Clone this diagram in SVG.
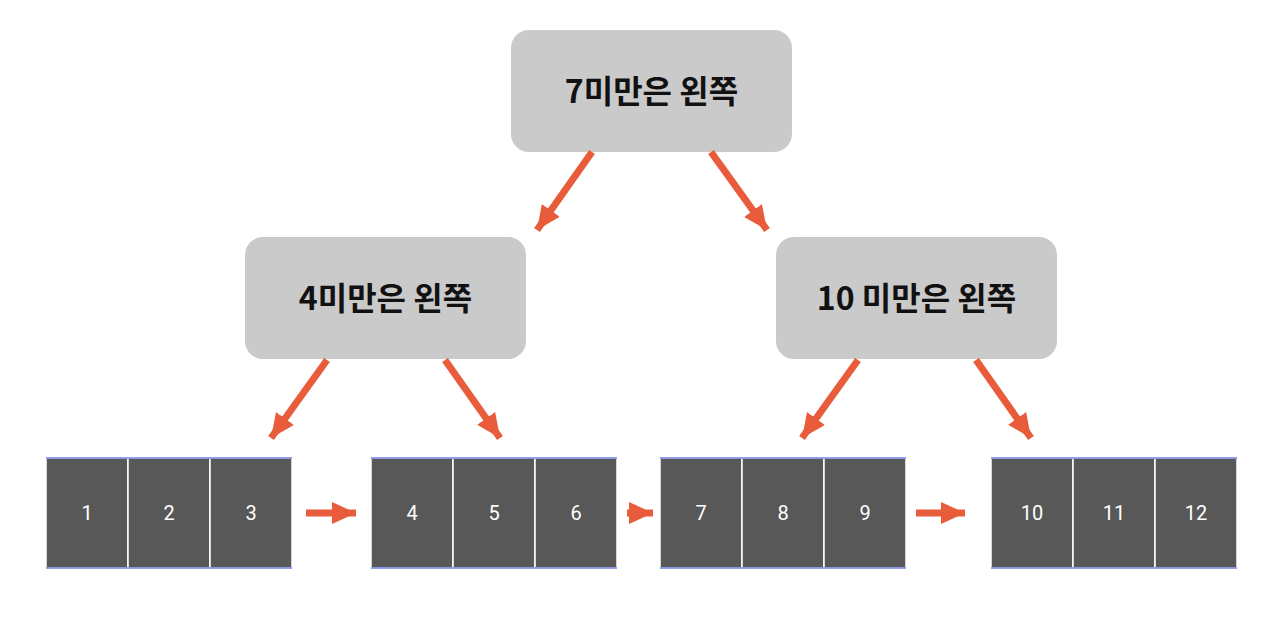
<svg xmlns="http://www.w3.org/2000/svg" width="1280" height="644" viewBox="0 0 1280 644">
<style>
.node rect{fill:#cacaca}
.node text{font-family:"Noto Sans CJK KR","Noto Sans",sans-serif;font-weight:bold;font-size:32px;fill:#111;text-anchor:middle}
.cell{fill:#585858;stroke:#ffffff;stroke-width:1.5}
.edge{stroke:#6f7fe0;stroke-width:1.5}
.num{font-family:Roboto,"Liberation Sans",sans-serif;font-size:20px;fill:#fff;text-anchor:middle}
.conn line{stroke:#e85c3c;stroke-width:7}
</style>
<defs>
<marker id="ah" markerUnits="userSpaceOnUse" markerWidth="26" markerHeight="26" viewBox="0 0 26 26" refX="24" refY="13" orient="auto">
<path d="M0,2 L24,13 L0,24 Z" fill="#e85c3c"/>
</marker>
</defs>
<g id="n7" class="node"><rect x="511" y="30" width="281" height="122" rx="18"/><text x="651.5" y="103">7미만은 왼쪽</text></g>
<g id="n4" class="node"><rect x="245" y="237" width="281" height="122" rx="18"/><text x="385.5" y="310">4미만은 왼쪽</text></g>
<g id="n10" class="node"><rect x="776" y="237" width="281" height="122" rx="18"/><text x="916.5" y="310">10 미만은 왼쪽</text></g>
<g id="leaf1">
<rect class="cell" x="46" y="458" width="82" height="110"/><rect class="cell" x="128" y="458" width="82" height="110"/><rect class="cell" x="210" y="458" width="82" height="110"/>
<line class="edge" x1="46" y1="458" x2="292" y2="458"/><line class="edge" x1="46" y1="568" x2="292" y2="568"/>
<text class="num" x="87" y="520">1</text><text class="num" x="169" y="520">2</text><text class="num" x="251" y="520">3</text>
</g>
<g id="leaf2">
<rect class="cell" x="371" y="458" width="82" height="110"/><rect class="cell" x="453" y="458" width="82" height="110"/><rect class="cell" x="535" y="458" width="82" height="110"/>
<line class="edge" x1="371" y1="458" x2="617" y2="458"/><line class="edge" x1="371" y1="568" x2="617" y2="568"/>
<text class="num" x="412" y="520">4</text><text class="num" x="494" y="520">5</text><text class="num" x="576" y="520">6</text>
</g>
<g id="leaf3">
<rect class="cell" x="660" y="458" width="82" height="110"/><rect class="cell" x="742" y="458" width="82" height="110"/><rect class="cell" x="824" y="458" width="82" height="110"/>
<line class="edge" x1="660" y1="458" x2="906" y2="458"/><line class="edge" x1="660" y1="568" x2="906" y2="568"/>
<text class="num" x="701" y="520">7</text><text class="num" x="783" y="520">8</text><text class="num" x="865" y="520">9</text>
</g>
<g id="leaf4">
<rect class="cell" x="991" y="458" width="82" height="110"/><rect class="cell" x="1073" y="458" width="82" height="110"/><rect class="cell" x="1155" y="458" width="82" height="110"/>
<line class="edge" x1="991" y1="458" x2="1237" y2="458"/><line class="edge" x1="991" y1="568" x2="1237" y2="568"/>
<text class="num" x="1032" y="520">10</text><text class="num" x="1114" y="520">11</text><text class="num" x="1196" y="520">12</text>
</g>
<g id="connectors" class="conn">
<line x1="592" y1="152" x2="537" y2="230" marker-end="url(#ah)"/>
<line x1="711" y1="152" x2="767" y2="230" marker-end="url(#ah)"/>
<line x1="327" y1="360" x2="271" y2="438" marker-end="url(#ah)"/>
<line x1="445" y1="360" x2="500" y2="438" marker-end="url(#ah)"/>
<line x1="858" y1="360" x2="802" y2="438" marker-end="url(#ah)"/>
<line x1="976" y1="360" x2="1031" y2="438" marker-end="url(#ah)"/>
<line x1="306" y1="513" x2="356" y2="513" marker-end="url(#ah)"/>
<line x1="627" y1="513" x2="653" y2="513" marker-end="url(#ah)"/>
<line x1="916" y1="513" x2="965" y2="513" marker-end="url(#ah)"/>
</g>
</svg>
